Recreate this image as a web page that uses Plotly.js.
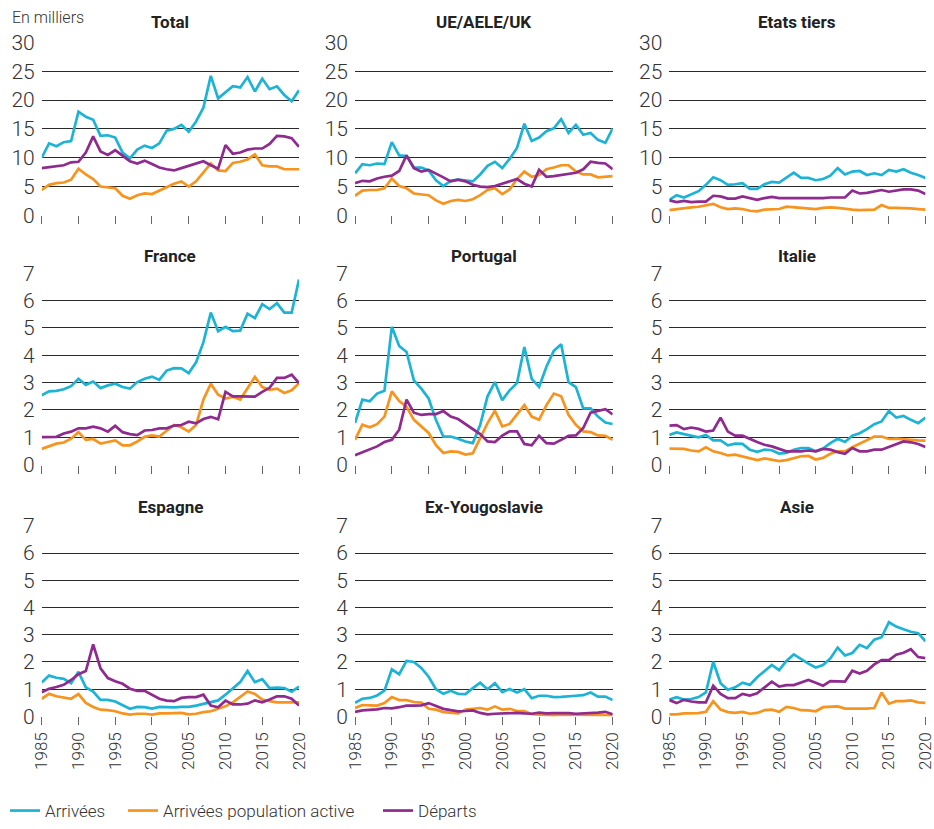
<!DOCTYPE html>
<html>
<head>
<meta charset="utf-8">
<script src="https://cdn.plot.ly/plotly-3.0.1.min.js"></script>
<style>html,body{margin:0;padding:0;background:#fff;}#chart{width:934px;height:829px;}</style>
</head>
<body>
<div id="chart"></div>
<script>
const years = [1985,1986,1987,1988,1989,1990,1991,1992,1993,1994,1995,1996,1997,1998,1999,2000,2001,2002,2003,2004,2005,2006,2007,2008,2009,2010,2011,2012,2013,2014,2015,2016,2017,2018,2019,2020];
const yearTicks = [1985,1990,1995,2000,2005,2010,2015,2020];
const seriesNames = ["Arrivées","Arrivées population active","Départs"];
const panelTitles = ["Total","UE/AELE/UK","Etats tiers","France","Portugal","Italie","Espagne","Ex-Yougoslavie","Asie"];

// Total
const totalArr = [10.0,12.5,12.0,12.7,12.9,18.0,17.1,16.6,13.8,13.9,13.5,10.9,9.9,11.4,12.1,11.7,12.5,14.7,15.0,15.7,14.5,16.3,18.7,24.2,20.3,21.3,22.4,22.2,24.0,21.5,23.7,21.9,22.4,20.9,19.8,21.7];
const totalAct = [4.4,5.3,5.6,5.7,6.2,8.1,7.1,6.3,5.0,4.8,4.7,3.4,2.9,3.5,3.8,3.7,4.3,4.9,5.5,5.9,5.0,5.9,7.5,9.0,7.8,7.7,9.1,9.3,9.7,10.6,8.7,8.5,8.5,8.0,8.0,8.0];
const totalDep = [8.2,8.4,8.5,8.7,9.2,9.3,10.9,13.7,11.1,10.5,11.3,10.3,9.4,9.0,9.5,8.9,8.3,8.0,7.8,8.2,8.6,9.0,9.4,8.7,8.1,12.2,10.7,10.9,11.4,11.6,11.6,12.4,13.8,13.7,13.4,11.9];
// UE/AELE/UK
const ueArr = [7.3,8.9,8.7,9.0,8.9,12.7,10.4,10.3,8.3,8.3,7.8,6.1,5.1,6.0,6.2,6.0,5.9,7.1,8.6,9.3,8.2,9.8,11.7,15.9,12.9,13.5,14.6,15.1,16.7,14.3,15.7,14.0,14.3,13.1,12.6,15.1];
const ueAct = [3.4,4.3,4.4,4.4,4.7,6.4,5.1,4.7,3.8,3.6,3.5,2.6,2.0,2.5,2.7,2.5,2.8,3.5,4.4,4.7,3.7,4.5,6.3,7.6,6.7,7.0,8.0,8.3,8.7,8.7,7.6,7.1,7.1,6.6,6.7,6.8];
const ueDep = [5.6,6.0,5.9,6.4,6.7,6.9,7.7,10.4,8.2,7.6,7.9,7.3,6.6,5.9,6.2,5.9,5.3,5.0,4.9,5.1,5.5,5.9,6.3,5.5,5.0,7.9,6.7,6.8,7.0,7.1,7.4,8.0,9.3,9.1,9.0,8.0];
// Etats tiers
const tiersArr = [2.7,3.5,3.1,3.7,4.2,5.3,6.6,6.1,5.3,5.4,5.6,4.6,4.6,5.4,5.8,5.7,6.5,7.4,6.5,6.5,6.1,6.3,6.9,8.2,7.1,7.6,7.7,7.0,7.3,7.0,7.9,7.6,8.0,7.4,7.0,6.5];
const tiersAct = [0.9,1.1,1.3,1.4,1.5,1.8,2.0,1.4,1.1,1.2,1.1,0.8,0.7,1.0,1.1,1.1,1.5,1.4,1.2,1.1,1.1,1.3,1.4,1.3,1.1,1.0,0.9,0.9,1.0,1.8,1.3,1.3,1.3,1.2,1.1,1.0];
const tiersDep = [2.6,2.3,2.5,2.3,2.4,2.4,3.4,3.3,2.9,2.9,3.3,3.0,2.7,3.0,3.2,3.0,3.0,3.0,2.9,3.0,3.0,3.0,3.1,3.1,3.1,4.3,3.8,3.9,4.2,4.4,4.1,4.3,4.5,4.5,4.3,3.7];
// France
const franceArr = [2.54,2.68,2.70,2.76,2.87,3.14,2.92,3.04,2.80,2.90,2.96,2.84,2.78,3.02,3.14,3.22,3.10,3.44,3.53,3.52,3.35,3.74,4.48,5.56,4.88,5.04,4.88,4.90,5.52,5.36,5.87,5.69,5.90,5.56,5.56,6.77];
const franceAct = [0.58,0.67,0.77,0.81,0.95,1.19,0.91,0.94,0.77,0.83,0.89,0.71,0.71,0.85,1.02,1.07,1.03,1.24,1.45,1.37,1.21,1.45,2.38,2.96,2.56,2.42,2.48,2.38,2.78,3.21,2.84,2.74,2.78,2.62,2.72,2.98];
const franceDep = [1.01,1.01,1.02,1.14,1.21,1.33,1.33,1.39,1.33,1.21,1.42,1.19,1.12,1.08,1.25,1.27,1.33,1.33,1.43,1.45,1.57,1.51,1.67,1.75,1.66,2.66,2.50,2.50,2.50,2.49,2.66,2.81,3.17,3.17,3.29,2.98];
// Portugal
const portugalArr = [1.52,2.38,2.32,2.60,2.70,5.04,4.34,4.12,3.08,2.78,2.42,1.63,1.03,1.03,0.95,0.85,0.79,1.45,2.50,3.02,2.36,2.72,2.98,4.30,3.14,2.84,3.58,4.16,4.40,3.02,2.84,2.06,2.06,1.76,1.54,1.49];
const portugalAct = [0.91,1.46,1.37,1.48,1.76,2.68,2.33,2.12,1.64,1.40,1.16,0.71,0.43,0.49,0.47,0.37,0.42,0.97,1.52,1.97,1.40,1.49,1.82,2.18,1.76,1.64,2.18,2.60,2.50,1.82,1.46,1.22,1.19,1.07,1.06,0.91];
const portugalDep = [0.35,0.46,0.55,0.67,0.83,0.91,1.28,2.38,1.90,1.82,1.85,1.85,1.96,1.76,1.67,1.48,1.31,1.12,0.85,0.83,1.06,1.22,1.22,0.76,0.71,1.06,0.79,0.77,0.91,1.06,1.07,1.34,1.90,1.96,2.03,1.84];
// Italie
const italieArr = [1.09,1.18,1.12,1.06,1.00,1.09,0.89,0.89,0.71,0.77,0.76,0.55,0.47,0.55,0.53,0.41,0.43,0.55,0.61,0.61,0.49,0.59,0.79,0.95,0.83,1.06,1.15,1.30,1.48,1.58,1.96,1.72,1.78,1.64,1.52,1.72];
const italieAct = [0.59,0.58,0.58,0.52,0.49,0.64,0.49,0.43,0.34,0.37,0.31,0.23,0.17,0.23,0.19,0.13,0.17,0.23,0.31,0.32,0.19,0.25,0.40,0.49,0.49,0.64,0.76,0.90,1.03,1.03,0.94,0.95,0.94,0.91,0.89,0.88];
const italieDep = [1.43,1.45,1.30,1.36,1.31,1.21,1.25,1.72,1.21,1.06,1.06,0.94,0.83,0.73,0.67,0.58,0.49,0.49,0.49,0.52,0.49,0.58,0.55,0.46,0.40,0.61,0.49,0.49,0.55,0.55,0.65,0.76,0.85,0.82,0.76,0.65];
// Espagne
const espagneArr = [1.25,1.50,1.42,1.38,1.22,1.64,1.07,0.91,0.61,0.61,0.55,0.40,0.28,0.35,0.34,0.29,0.35,0.34,0.33,0.35,0.35,0.40,0.46,0.53,0.59,0.80,1.04,1.26,1.67,1.26,1.37,1.04,1.06,1.04,0.91,1.10];
const espagneAct = [0.65,0.83,0.74,0.70,0.65,0.82,0.50,0.35,0.25,0.23,0.19,0.11,0.07,0.10,0.10,0.07,0.11,0.11,0.11,0.13,0.08,0.10,0.16,0.19,0.28,0.37,0.52,0.71,0.92,0.83,0.62,0.56,0.52,0.52,0.52,0.52];
const espagneDep = [0.89,1.02,1.08,1.16,1.34,1.55,1.67,2.65,1.77,1.41,1.29,1.20,1.02,0.94,0.94,0.80,0.65,0.58,0.56,0.68,0.71,0.71,0.80,0.40,0.34,0.58,0.44,0.44,0.47,0.59,0.52,0.62,0.74,0.74,0.65,0.40];
// Ex-Yougoslavie
const yougoArr = [0.50,0.65,0.68,0.77,0.95,1.73,1.55,2.04,2.00,1.78,1.46,1.00,0.83,0.94,0.83,0.82,1.04,1.24,1.00,1.22,0.89,1.01,0.88,1.00,0.67,0.76,0.76,0.71,0.72,0.75,0.76,0.78,0.88,0.73,0.73,0.60];
const yougoAct = [0.31,0.42,0.41,0.40,0.49,0.71,0.60,0.60,0.53,0.51,0.28,0.25,0.16,0.13,0.11,0.25,0.28,0.31,0.25,0.37,0.25,0.28,0.20,0.20,0.08,0.07,0.05,0.04,0.07,0.07,0.05,0.06,0.07,0.07,0.05,0.04];
const yougoDep = [0.17,0.22,0.24,0.26,0.31,0.30,0.34,0.40,0.40,0.41,0.49,0.37,0.28,0.23,0.19,0.20,0.22,0.13,0.08,0.10,0.11,0.14,0.13,0.11,0.10,0.14,0.11,0.12,0.13,0.12,0.10,0.11,0.14,0.14,0.17,0.08];
// Asie
const asieArr = [0.62,0.71,0.62,0.64,0.71,0.88,2.01,1.22,0.98,1.07,1.24,1.16,1.44,1.68,1.89,1.70,2.04,2.28,2.10,1.94,1.80,1.89,2.13,2.53,2.24,2.33,2.63,2.51,2.82,2.91,3.46,3.30,3.20,3.11,3.06,2.76];
const asieAct = [0.08,0.08,0.11,0.11,0.12,0.17,0.56,0.25,0.16,0.13,0.17,0.10,0.13,0.23,0.25,0.17,0.35,0.31,0.23,0.22,0.19,0.34,0.36,0.37,0.29,0.28,0.29,0.29,0.31,0.88,0.47,0.56,0.56,0.59,0.52,0.50];
const asieDep = [0.60,0.49,0.61,0.55,0.52,0.52,1.13,0.83,0.67,0.67,0.83,0.77,0.85,1.06,1.28,1.10,1.15,1.15,1.25,1.34,1.24,1.13,1.30,1.30,1.28,1.68,1.58,1.68,1.91,2.07,2.07,2.27,2.34,2.47,2.18,2.14];

const panels = [
  [totalArr, totalAct, totalDep],
  [ueArr, ueAct, ueDep],
  [tiersArr, tiersAct, tiersDep],
  [franceArr, franceAct, franceDep],
  [portugalArr, portugalAct, portugalDep],
  [italieArr, italieAct, italieDep],
  [espagneArr, espagneAct, espagneDep],
  [yougoArr, yougoAct, yougoDep],
  [asieArr, asieAct, asieDep]
];

const colors = ["#1db3d5", "#f7941e", "#8f2a8e"];
const W = 934, H = 829;
const colPx = [[41.7, 299], [355, 612.7], [669.3, 925.5]];
const rowPx = [[43, 218], [276.5, 470.4], [532.3, 725.2]];
const titleY = [22, 259, 513];
const legendX = [5, 123, 378];
const legendIds = ["legend", "legend2", "legend3"];
const FONT = "Roboto, 'Liberation Sans Narrow', sans-serif";

const traces = [];
const layout = {
  width: W, height: H,
  margin: {l: 0, r: 0, t: 0, b: 0},
  paper_bgcolor: "#fff", plot_bgcolor: "#fff",
  font: {family: FONT, color: "#333"},
  showlegend: true,
  annotations: [],
  hovermode: false
};
legendIds.forEach((id, k) => {
  layout[id] = {
    orientation: "h", x: legendX[k] / W, xanchor: "left", y: 1 - 821 / H, yanchor: "middle",
    font: {size: 17, color: "#333", family: FONT, weight: 300}, itemwidth: 30,
    bgcolor: "rgba(0,0,0,0)"
  };
});

panels.forEach((ser, i) => {
  const r = Math.floor(i / 3), c = i % 3;
  const suf = i === 0 ? "" : String(i + 1);
  ser.forEach((vals, k) => {
    traces.push({
      x: years, y: vals, type: "scatter", mode: "lines",
      name: seriesNames[k], legendgroup: seriesNames[k], showlegend: i === 0,
      legend: legendIds[k],
      line: {color: colors[k], width: 2.7},
      xaxis: "x" + suf, yaxis: "y" + suf
    });
  });
  const big = i < 3;
  layout["xaxis" + suf] = {
    domain: [colPx[c][0] / W, colPx[c][1] / W],
    range: [1985, 2020], tickvals: yearTicks, ticktext: yearTicks.map(String),
    ticks: "outside", ticklen: 8, tickwidth: 1, tickcolor: "#666",
    showticklabels: r === 2, tickangle: -90, ticklabeloverflow: "allow",
    tickfont: {size: 17, color: "#333", family: FONT, weight: 300},
    showgrid: false, zeroline: false, showline: false,
    anchor: "y" + suf, fixedrange: true
  };
  layout["yaxis" + suf] = {
    domain: [1 - rowPx[r][1] / H, 1 - rowPx[r][0] / H],
    range: big ? [0, 30] : [0, 7], dtick: big ? 5 : 1, tick0: 0,
    showgrid: true, gridcolor: "#2a2a2a", gridwidth: 1,
    zeroline: false, showline: false, ticks: "",
    tickfont: {size: 21, color: "#333", family: FONT, weight: 300},
    ticklabelstandoff: 6,
    anchor: "x" + suf, fixedrange: true
  };
  layout.annotations.push({
    text: "<b>" + panelTitles[i] + "</b>", xref: "paper", yref: "paper",
    x: (colPx[c][0] + colPx[c][1]) / 2 / W, y: 1 - titleY[r] / H,
    xanchor: "center", yanchor: "middle", showarrow: false,
    font: {size: 17, color: "#222", family: FONT}
  });
});

layout.annotations.push({
  text: "En milliers", xref: "paper", yref: "paper",
  x: 10 / W, y: 1 - 18 / H, xanchor: "left", yanchor: "middle", showarrow: false,
  font: {size: 16, color: "#333", family: FONT, weight: 300}
});

Plotly.newPlot("chart", traces, layout, {displayModeBar: false, staticPlot: true});
</script>
</body>
</html>
